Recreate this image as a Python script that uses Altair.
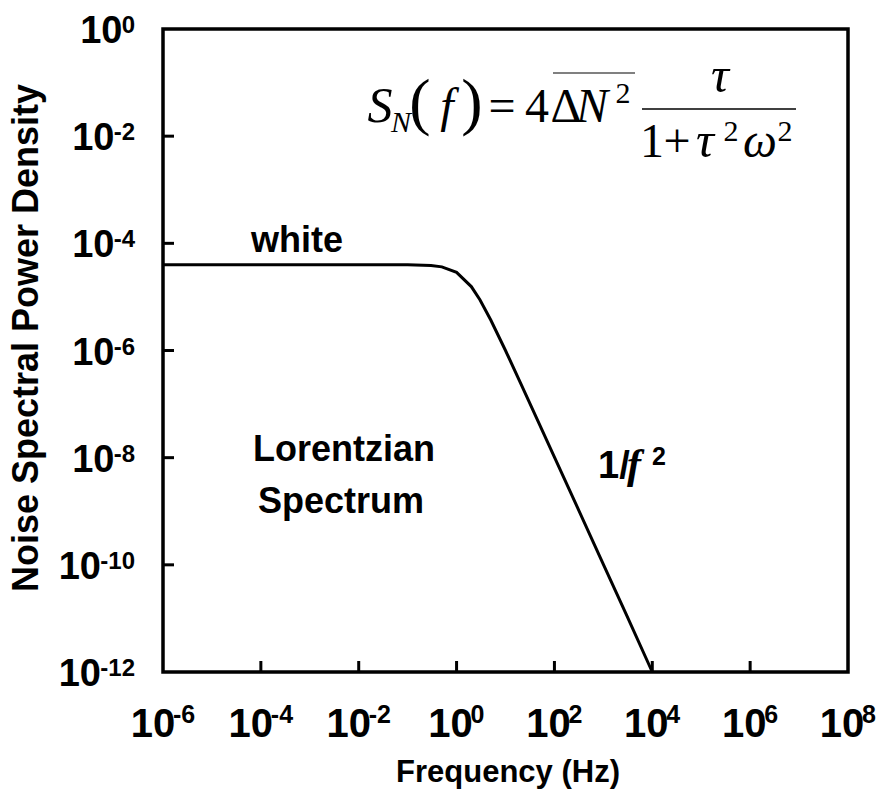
import altair as alt
import pandas as pd

# Lorentzian noise spectrum, read point by point (frequency in Hz, PSD)
freq_hz = [1e-6, 1e-4, 1e-2, 0.1, 0.3, 0.5, 1.0, 2.0, 3.0, 5.0, 10.0, 20.0,
           50.0, 100.0, 300.0, 1000.0, 3000.0, 1e4]
psd = [4.0e-5, 4.0e-5, 4.0e-5, 3.98e-5, 3.86e-5, 3.64e-5, 2.88e-5, 1.56e-5,
       8.85e-6, 3.71e-6, 1.0e-6, 2.55e-7, 4.1e-8, 1.02e-8, 1.14e-9, 1.02e-10,
       1.14e-11, 1.0e-12]

# decade exponents shown on each axis
x_tick_exp = [-6, -4, -2, 0, 2, 4, 6, 8]
y_tick_exp = [0, -2, -4, -6, -8, -10, -12]

W, H = 685, 643
SANS = "Liberation Sans"
SERIF = "Liberation Serif"

xscale = alt.Scale(type="log", domain=[1e-6, 1e8], nice=False)
yscale = alt.Scale(type="log", domain=[1e-12, 1], nice=False)


def X(field):
    return alt.X(field, type="quantitative", scale=xscale, axis=None)


def Y(field):
    return alt.Y(field, type="quantitative", scale=yscale, axis=None)


one_row = alt.Data(values=[{}])

curve_df = pd.DataFrame({"f": freq_hz, "S": psd})
curve = alt.Chart(curve_df).mark_line(color="black", strokeWidth=3).encode(
    x=X("f"), y=Y("S")
)

# inward tick marks (interior decades only)
xt_df = pd.DataFrame({"v": [10.0 ** e for e in x_tick_exp[1:-1]]})
yt_df = pd.DataFrame({"v": [10.0 ** e for e in y_tick_exp[1:-1]]})
xticks = alt.Chart(xt_df).mark_rule(color="black", strokeWidth=3).encode(
    x=X("v"), y=alt.value(H), y2=alt.value(H - 11)
)
yticks = alt.Chart(yt_df).mark_rule(color="black", strokeWidth=3).encode(
    y=Y("v"), x=alt.value(0), x2=alt.value(11)
)

layers = [curve, xticks, yticks]

# x tick labels: "10" plus a raised exponent
xl_df = pd.DataFrame({"v": [10.0 ** e for e in x_tick_exp],
                      "exp": [str(e) for e in x_tick_exp]})
for neg in (True, False):
    sub = xl_df[xl_df["exp"].str.startswith("-") == neg]
    shift = -10 if neg else -6
    layers.append(
        alt.Chart(sub).mark_text(font=SANS, fontWeight="bold", fontSize=40,
                                 align="center", baseline="alphabetic", dx=shift)
        .encode(x=X("v"), y=alt.value(H + 65), text=alt.value("10"))
    )
    layers.append(
        alt.Chart(sub).mark_text(font=SANS, fontWeight="bold", fontSize=25,
                                 align="left", baseline="alphabetic", dx=shift + 20)
        .encode(x=X("v"), y=alt.value(H + 51), text="exp:N")
    )

# y tick labels, right-aligned blocks
yl_df = pd.DataFrame({"v": [10.0 ** e for e in y_tick_exp],
                      "exp": [str(e) for e in y_tick_exp]})
exp_width = {1: 13.5, 2: 21.5, 3: 35}
for n, w in exp_width.items():
    sub = yl_df[yl_df["exp"].str.len() == n]
    layers.append(
        alt.Chart(sub).mark_text(font=SANS, fontWeight="bold", fontSize=38,
                                 align="right", baseline="alphabetic", dy=14)
        .encode(y=Y("v"), x=alt.value(-28 - w + 1), text=alt.value("10"))
    )
    layers.append(
        alt.Chart(sub).mark_text(font=SANS, fontWeight="bold", fontSize=24,
                                 align="right", baseline="alphabetic", dy=4)
        .encode(y=Y("v"), x=alt.value(-28), text="exp:N")
    )


def label(txt, x, y, size, font=SANS, weight="bold", style="normal",
          align="center", angle=0, baseline="alphabetic", color="black"):
    return alt.Chart(one_row).mark_text(
        font=font, fontWeight=weight, fontStyle=style, fontSize=size,
        align=align, angle=angle, baseline=baseline, color=color
    ).encode(x=alt.value(x), y=alt.value(y), text=alt.value(txt))


def bar(x1, x2, y, width, color):
    return alt.Chart(one_row).mark_rule(color=color, strokeWidth=width).encode(
        x=alt.value(x1), x2=alt.value(x2), y=alt.value(y)
    )


# axis titles
layers.append(label("Frequency (Hz)", 345, H + 110, 31))
layers.append(label("Noise Spectral Power Density", -136, 309, 36,
                    angle=270, baseline="middle"))

# annotations
layers.append(label("white", 134, 223, 36))
layers.append(label("Lorentzian", 181, 432, 36))
layers.append(label("Spectrum", 178, 484, 36))
layers.append(label("1/", 435, 449, 38, align="left"))
layers.append(label("f", 464, 449, 42, font=SERIF, style="italic", align="left"))
layers.append(label("2", 489, 436, 25, align="left"))

# S_N(f) = 4 ΔN² τ / (1 + τ²ω²)
MB = 93
FS = 48
layers += [
    label("S", 217, MB, 50, font=SERIF, weight="normal", style="italic"),
    label("N", 238, MB + 10, 30, font=SERIF, weight="normal", style="italic"),
    label("(", 257, MB + 1, 64, font=SERIF, weight="normal"),
    label("f", 284, MB, FS, font=SERIF, weight="normal", style="italic"),
    label(")", 309, MB + 1, 64, font=SERIF, weight="normal"),
    label("=", 339, MB, FS, font=SERIF, weight="normal"),
    label("4", 374, MB, FS, font=SERIF, weight="normal"),
    label("Δ", 403, MB, FS, font=SERIF, weight="normal"),
    label("N", 429, MB, FS, font=SERIF, weight="normal", style="italic"),
    label("2", 460, MB - 19, 30, font=SERIF, weight="normal"),
    bar(390, 472, 44, 2, "#808080"),
    label("τ", 557, 63, 50, font=SERIF, weight="normal", style="italic"),
    bar(479, 633, 80, 1.6, "black"),
    label("1", 489, 128, FS, font=SERIF, weight="normal"),
    label("+", 514, 128, FS, font=SERIF, weight="normal"),
    label("τ", 542, 128, 50, font=SERIF, weight="normal", style="italic"),
    label("2", 568, 112, 30, font=SERIF, weight="normal"),
    label("ω", 597, 128, FS, font=SERIF, weight="normal", style="italic"),
    label("2", 622, 112, 30, font=SERIF, weight="normal"),
]

chart = (
    alt.layer(*layers)
    .properties(
        width=W, height=H,
        autosize=alt.AutoSizeParams(type="none"),
        padding={"left": 163, "top": 29, "right": 37, "bottom": 119},
        background="white",
    )
    .configure_view(stroke="black", strokeWidth=3.5)
)

chart.save("out.html", embed_options={"renderer": "svg", "actions": False})
